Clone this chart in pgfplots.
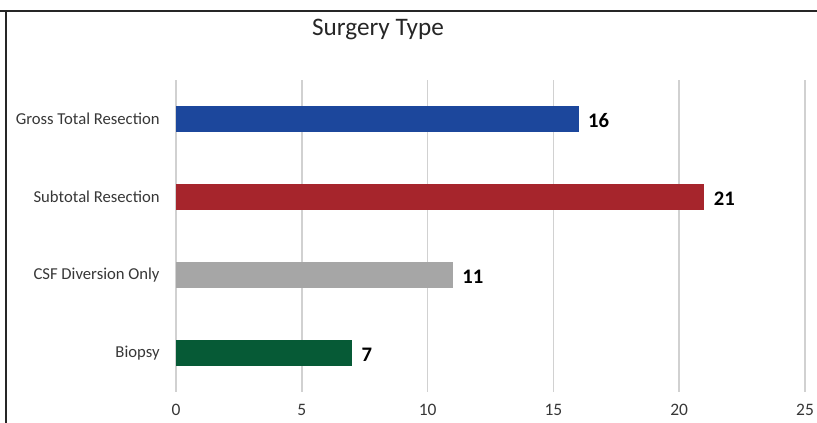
\documentclass[border=0pt]{standalone}
\usepackage{fontspec}
\setmainfont{Carlito}
\usepackage{pgfplots}
\pgfplotsset{compat=1.18}
\definecolor{cgtr}{RGB}{28,71,156}
\definecolor{cstr}{RGB}{166,37,44}
\definecolor{ccsf}{RGB}{166,166,166}
\definecolor{cbio}{RGB}{6,90,54}
\definecolor{txt}{RGB}{55,55,55}
\begin{document}
\begin{tikzpicture}
\path[use as bounding box] (0,0) rectangle (612.75pt,-317.25pt);
\draw[line width=2.2pt, color=black!85] (0,-8.25pt) -- (612.75pt,-8.25pt);
\draw[line width=2pt, color=black!85] (4.6pt,-8.25pt) -- (4.6pt,-317.25pt);
\node[text=black!85, font=\fontsize{18.9}{22}\selectfont] at (283.5pt,-22pt) {Surgery Type};
\begin{axis}[
  at={(132pt,-294pt)}, anchor=south west,
  scale only axis, width=471.75pt, height=234pt,
  xbar, bar width=19.5pt, bar shift=0pt,
  xmin=0, xmax=25, ymin=-0.5, ymax=3.5,
  axis line style={draw=none}, major tick style={draw=none},
  xmajorgrids, grid style={color=black!18, line width=1.1pt},
  xtick={0,5,10,15,20,25},
  ytick={0,1,2,3},
  yticklabels={Biopsy, CSF Diversion Only, Subtotal Resection, Gross Total Resection},
  xticklabel style={text=txt, font=\fontsize{13.1}{15}\selectfont, yshift=-5.5pt},
  yticklabel style={text=txt, font=\fontsize{12.5}{15}\selectfont, xshift=-4.5pt},
  /pgf/number format/assume math mode=true,
  nodes near coords, point meta=x,
  every node near coord/.append style={anchor=west, inner sep=0pt, xshift=7pt, yshift=-1pt, text=black, font=\bfseries\fontsize{15.5}{18}\selectfont},
  clip=false,
]
\addplot[fill=cbio, draw=none] coordinates {(7,0)};
\addplot[fill=ccsf, draw=none] coordinates {(11,1)};
\addplot[fill=cstr, draw=none] coordinates {(21,2)};
\addplot[fill=cgtr, draw=none] coordinates {(16,3)};
\end{axis}
\end{tikzpicture}
\end{document}
